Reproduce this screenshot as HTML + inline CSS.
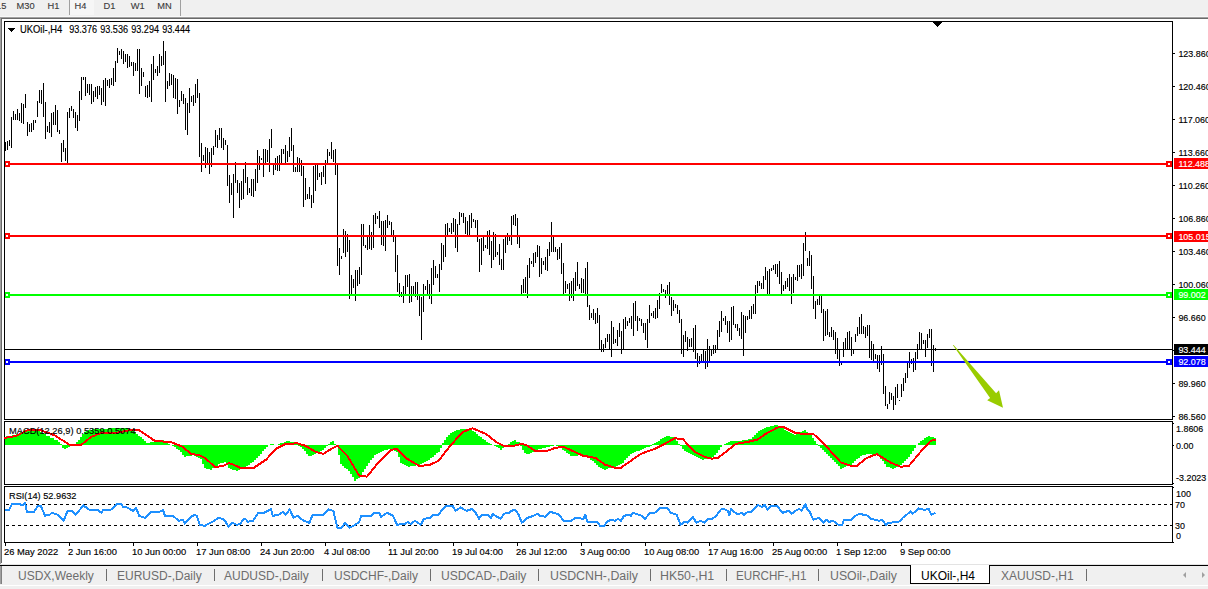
<!DOCTYPE html><html><head><meta charset="utf-8"><style>
html,body{margin:0;padding:0;width:1208px;height:589px;overflow:hidden;background:#fff;}
svg{display:block;}
text{font-family:"Liberation Sans", sans-serif;}
</style></head><body>
<svg width="1208" height="589" viewBox="0 0 1208 589">
<rect x="0" y="0" width="1208" height="589" fill="#ffffff"/>
<rect x="0" y="0" width="1208" height="17" fill="#f0f0f0"/>
<rect x="69" y="0" width="25" height="15" fill="#f6f6f6"/>
<rect x="69" y="0" width="1" height="15" fill="#a0a0a0"/>
<rect x="180" y="0" width="1" height="16" fill="#a0a0a0"/>
<rect x="0" y="16" width="1208" height="1" fill="#f8f8f8"/>
<rect x="0" y="17" width="1208" height="1" fill="#a0a0a0"/>
<rect x="1" y="18" width="1207" height="1" fill="#696969"/>
<g shape-rendering="crispEdges">
<path d="M5.5 142V151M7.5 141V150M9.5 140V146M11.5 117V148M13.5 111V120M15.5 114V120M17.5 109V120M19.5 113V121M21.5 103V123M23.5 104V124M25.5 94V108M27.5 122V136M29.5 124V132M31.5 123V132M33.5 120V130M35.5 120V123M37.5 101V117M39.5 90V103M41.5 90V104M43.5 83V117M45.5 102V139M47.5 126V132M49.5 122V133M51.5 113V137M53.5 112V125M55.5 105V125M57.5 110V132M59.5 130V134M61.5 143V162M63.5 140V152M65.5 148V161M67.5 112V163M69.5 108V118M71.5 106V111M73.5 109V118M75.5 112V128M77.5 115V131M79.5 91V121M81.5 77V100M83.5 77V80M85.5 77V96M87.5 84V93M89.5 84V95M91.5 84V104M93.5 91V102M95.5 87V97M97.5 86V99M99.5 86V95M101.5 88V105M103.5 80V102M105.5 78V106M107.5 80V86M109.5 79V88M111.5 78V85M113.5 68V86M115.5 61V82M117.5 48V63M119.5 51V55M121.5 49V59M123.5 51V64M125.5 54V62M127.5 54V68M129.5 56V67M131.5 62V66M133.5 62V76M135.5 63V71M137.5 49V71M139.5 49V94M141.5 68V86M143.5 72V77M145.5 86V97M147.5 85V98M149.5 81V97M151.5 64V102M153.5 56V80M155.5 69V73M157.5 66V76M159.5 54V73M161.5 56V66M163.5 41V65M165.5 51V102M167.5 81V89M169.5 73V86M171.5 74V85M173.5 75V98M175.5 78V99M177.5 79V114M179.5 100V107M181.5 91V101M183.5 94V104M185.5 98V130M187.5 103V135M189.5 88V113M191.5 96V102M193.5 95V106M195.5 84V103M197.5 79V98M199.5 93V157M201.5 143V172M203.5 155V161M205.5 147V168M207.5 148V164M209.5 152V174M211.5 148V167M213.5 146V155M215.5 130V147M217.5 135V148M219.5 128V140M221.5 128V148M223.5 138V150M225.5 140V145M227.5 145V186M229.5 175V203M231.5 183V195M233.5 174V218M235.5 162V183M237.5 180V193M239.5 183V208M241.5 181V200M243.5 169V199M245.5 162V183M247.5 177V195M249.5 188V193M251.5 179V196M253.5 179V197M255.5 169V191M257.5 150V183M259.5 156V170M261.5 158V160M263.5 149V177M265.5 149V163M267.5 150V162M269.5 139V172M271.5 129V148M273.5 164V175M275.5 158V170M277.5 156V171M279.5 155V171M281.5 149V163M283.5 149V154M285.5 145V163M287.5 151V162M289.5 137V157M291.5 128V151M293.5 145V172M295.5 167V172M297.5 157V172M299.5 158V172M301.5 160V176M303.5 166V207M305.5 178V200M307.5 194V199M309.5 187V199M311.5 195V208M313.5 166V203M315.5 165V191M317.5 165V180M319.5 173V177M321.5 172V185M323.5 166V177M325.5 160V184M327.5 149V163M329.5 152V156M331.5 142V159M333.5 150V162M335.5 149V175M337.5 164V266M339.5 248V275M341.5 256V259M343.5 229V253M345.5 231V257M347.5 234V252M349.5 240V299M351.5 275V295M353.5 279V288M355.5 270V301M357.5 270V286M359.5 267V284M361.5 224V275M363.5 224V246M365.5 245V248M367.5 235V250M369.5 225V249M371.5 232V250M373.5 215V248M375.5 213V224M377.5 216V219M379.5 211V228M381.5 221V245M383.5 221V246M385.5 220V251M387.5 215V228M389.5 221V225M391.5 222V236M393.5 230V242M395.5 236V272M397.5 255V292M399.5 283V297M401.5 292V297M403.5 286V303M405.5 275V294M407.5 275V287M409.5 274V303M411.5 286V302M413.5 286V294M415.5 282V297M417.5 282V300M419.5 296V316M421.5 297V340M423.5 284V312M425.5 286V290M427.5 280V295M429.5 284V299M431.5 268V304M433.5 260V285M435.5 266V278M437.5 274V278M439.5 264V292M441.5 243V270M443.5 245V262M445.5 224V257M447.5 223V235M449.5 228V232M451.5 223V234M453.5 218V232M455.5 219V248M457.5 224V252M459.5 212V225M461.5 213V217M463.5 213V223M465.5 217V234M467.5 221V235M469.5 215V235M471.5 213V228M473.5 219V222M475.5 220V228M477.5 220V242M479.5 239V272M481.5 238V265M483.5 237V251M485.5 245V248M487.5 231V249M489.5 230V255M491.5 241V268M493.5 232V260M495.5 234V257M497.5 252V255M499.5 244V265M501.5 259V270M503.5 239V270M505.5 235V253M507.5 233V245M509.5 237V241M511.5 216V245M513.5 215V225M515.5 214V226M517.5 218V244M519.5 237V248M521.5 285V294M523.5 279V293M525.5 277V293M527.5 265V298M529.5 258V278M531.5 261V264M533.5 253V267M535.5 252V263M537.5 245V257M539.5 246V277M541.5 258V274M543.5 261V265M545.5 257V270M547.5 249V271M549.5 242V256M551.5 222V252M553.5 236V252M555.5 247V252M557.5 249V260M559.5 247V259M561.5 243V274M563.5 263V294M565.5 281V293M567.5 284V289M569.5 283V301M571.5 281V298M573.5 278V301M575.5 272V291M577.5 262V286M579.5 284V289M581.5 278V293M583.5 279V293M585.5 268V294M587.5 262V307M589.5 305V320M591.5 313V318M593.5 309V320M595.5 313V324M597.5 308V323M599.5 315V349M601.5 340V352M603.5 344V352M605.5 338V348M607.5 334V342M609.5 334V349M611.5 321V357M613.5 327V344M615.5 339V343M617.5 330V346M619.5 323V337M621.5 331V354M623.5 319V349M625.5 317V329M627.5 321V326M629.5 318V323M631.5 316V329M633.5 303V336M635.5 301V321M637.5 316V331M639.5 318V321M641.5 319V326M643.5 323V333M645.5 323V340M647.5 319V348M649.5 305V323M651.5 313V316M653.5 311V318M655.5 308V319M657.5 300V318M659.5 293V309M661.5 284V293M663.5 289V292M665.5 290V298M667.5 285V294M669.5 282V305M671.5 297V316M673.5 300V311M675.5 304V308M677.5 305V314M679.5 310V323M681.5 319V354M683.5 335V357M685.5 331V342M687.5 337V351M689.5 339V347M691.5 338V347M693.5 328V352M695.5 325V359M697.5 353V367M699.5 356V364M701.5 354V363M703.5 350V362M705.5 351V369M707.5 339V367M709.5 346V361M711.5 349V356M713.5 345V354M715.5 345V353M717.5 330V349M719.5 321V337M721.5 311V332M723.5 318V321M725.5 316V325M727.5 321V333M729.5 321V342M731.5 307V340M733.5 306V325M735.5 324V328M737.5 324V331M739.5 328V336M741.5 312V339M743.5 315V356M745.5 316V333M747.5 316V320M749.5 310V319M751.5 306V319M753.5 304V314M755.5 285V314M757.5 281V293M759.5 281V286M761.5 283V289M763.5 276V289M765.5 267V280M767.5 271V294M769.5 269V294M771.5 268V271M773.5 265V270M775.5 264V274M777.5 264V277M779.5 261V284M781.5 272V294M783.5 285V291M785.5 281V289M787.5 278V287M789.5 274V291M791.5 277V304M793.5 274V293M795.5 277V280M797.5 265V281M799.5 265V277M801.5 264V279M803.5 243V276M805.5 232V251M807.5 258V266M809.5 251V266M811.5 255V289M813.5 276V309M815.5 301V319M817.5 299V305M819.5 296V305M821.5 296V313M823.5 309V341M825.5 311V336M827.5 309V335M829.5 332V337M831.5 327V337M833.5 330V340M835.5 332V354M837.5 338V359M839.5 350V366M841.5 363V365M843.5 342V357M845.5 338V349M847.5 332V349M849.5 331V349M851.5 337V356M853.5 350V354M855.5 334V342M857.5 327V336M859.5 317V334M861.5 314V334M863.5 326V334M865.5 327V338M867.5 325V336M869.5 325V358M871.5 341V360M873.5 344V361M875.5 354V359M877.5 355V369M879.5 355V372M881.5 346V365M883.5 354V394M885.5 386V406M887.5 404V409M889.5 392V404M891.5 393V400M893.5 396V410M895.5 387V405M897.5 384V398M899.5 400V401M901.5 384V397M903.5 378V391M905.5 373V383M907.5 363V378M909.5 352V368M911.5 359V364M913.5 358V372M915.5 352V370M917.5 344V359M919.5 332V349M921.5 333V349M923.5 340V344M925.5 340V357M927.5 334V348M929.5 329V338M931.5 329V366M933.5 345V372M935.5 348V351" stroke="#000" stroke-width="1" fill="none"/>
</g>
<rect x="5" y="163" width="1167" height="2" fill="#ff0000" shape-rendering="crispEdges"/>
<rect x="4" y="161" width="6" height="6" fill="#ff0000" shape-rendering="crispEdges"/>
<rect x="6" y="163" width="2" height="2" fill="#fff" shape-rendering="crispEdges"/>
<rect x="1166" y="161" width="6" height="6" fill="#ff0000" shape-rendering="crispEdges"/>
<rect x="1168" y="163" width="2" height="2" fill="#fff" shape-rendering="crispEdges"/>
<rect x="5" y="235" width="1167" height="2" fill="#ff0000" shape-rendering="crispEdges"/>
<rect x="4" y="233" width="6" height="6" fill="#ff0000" shape-rendering="crispEdges"/>
<rect x="6" y="235" width="2" height="2" fill="#fff" shape-rendering="crispEdges"/>
<rect x="1166" y="233" width="6" height="6" fill="#ff0000" shape-rendering="crispEdges"/>
<rect x="1168" y="235" width="2" height="2" fill="#fff" shape-rendering="crispEdges"/>
<rect x="5" y="294" width="1167" height="2" fill="#00ff00" shape-rendering="crispEdges"/>
<rect x="4" y="292" width="6" height="6" fill="#00ff00" shape-rendering="crispEdges"/>
<rect x="6" y="294" width="2" height="2" fill="#fff" shape-rendering="crispEdges"/>
<rect x="1166" y="292" width="6" height="6" fill="#00ff00" shape-rendering="crispEdges"/>
<rect x="1168" y="294" width="2" height="2" fill="#fff" shape-rendering="crispEdges"/>
<rect x="5" y="361" width="1167" height="2" fill="#0000ff" shape-rendering="crispEdges"/>
<rect x="4" y="359" width="6" height="6" fill="#0000ff" shape-rendering="crispEdges"/>
<rect x="6" y="361" width="2" height="2" fill="#fff" shape-rendering="crispEdges"/>
<rect x="1166" y="359" width="6" height="6" fill="#0000ff" shape-rendering="crispEdges"/>
<rect x="1168" y="361" width="2" height="2" fill="#fff" shape-rendering="crispEdges"/>
<rect x="5" y="349" width="1167" height="1" fill="#000" shape-rendering="crispEdges"/>
<rect x="1173" y="350" width="1" height="1" fill="#000" shape-rendering="crispEdges"/>
<rect x="4.5" y="21.5" width="1168" height="398" fill="none" stroke="#000" stroke-width="1" shape-rendering="crispEdges"/>
<rect x="4.5" y="421.5" width="1168" height="63" fill="none" stroke="#000" stroke-width="1" shape-rendering="crispEdges"/>
<rect x="4.5" y="486.5" width="1168" height="56" fill="none" stroke="#000" stroke-width="1" shape-rendering="crispEdges"/>
<rect x="932" y="21" width="11" height="1" fill="#000" shape-rendering="crispEdges"/>
<rect x="933" y="22" width="9" height="1" fill="#000" shape-rendering="crispEdges"/>
<rect x="934" y="23" width="7" height="1" fill="#000" shape-rendering="crispEdges"/>
<rect x="935" y="24" width="5" height="1" fill="#000" shape-rendering="crispEdges"/>
<rect x="936" y="25" width="3" height="1" fill="#000" shape-rendering="crispEdges"/>
<rect x="937" y="26" width="1" height="1" fill="#000" shape-rendering="crispEdges"/>
<polygon points="952.8,345 953.6,345 996.1,393.3 999,390.3 1003,407.8 987.2,400.2 990.1,398.1" fill="#99cc00"/>
<rect x="1173" y="53" width="2" height="1" fill="#000" shape-rendering="crispEdges"/>
<text transform="translate(1178.4,57) scale(0.93,1)" font-size="9.6" fill="#000" stroke="#000" stroke-width="0.15" >123.860</text>
<rect x="1173" y="86" width="2" height="1" fill="#000" shape-rendering="crispEdges"/>
<text transform="translate(1178.4,90) scale(0.93,1)" font-size="9.6" fill="#000" stroke="#000" stroke-width="0.15" >120.460</text>
<rect x="1173" y="119" width="2" height="1" fill="#000" shape-rendering="crispEdges"/>
<text transform="translate(1178.4,123) scale(0.93,1)" font-size="9.6" fill="#000" stroke="#000" stroke-width="0.15" >117.060</text>
<rect x="1173" y="152" width="2" height="1" fill="#000" shape-rendering="crispEdges"/>
<text transform="translate(1178.4,156) scale(0.93,1)" font-size="9.6" fill="#000" stroke="#000" stroke-width="0.15" >113.660</text>
<rect x="1173" y="185" width="2" height="1" fill="#000" shape-rendering="crispEdges"/>
<text transform="translate(1178.4,189) scale(0.93,1)" font-size="9.6" fill="#000" stroke="#000" stroke-width="0.15" >110.260</text>
<rect x="1173" y="218" width="2" height="1" fill="#000" shape-rendering="crispEdges"/>
<text transform="translate(1178.4,222) scale(0.93,1)" font-size="9.6" fill="#000" stroke="#000" stroke-width="0.15" >106.860</text>
<rect x="1173" y="251" width="2" height="1" fill="#000" shape-rendering="crispEdges"/>
<text transform="translate(1178.4,255) scale(0.93,1)" font-size="9.6" fill="#000" stroke="#000" stroke-width="0.15" >103.460</text>
<rect x="1173" y="284" width="2" height="1" fill="#000" shape-rendering="crispEdges"/>
<text transform="translate(1178.4,288) scale(0.93,1)" font-size="9.6" fill="#000" stroke="#000" stroke-width="0.15" >100.060</text>
<rect x="1173" y="317" width="2" height="1" fill="#000" shape-rendering="crispEdges"/>
<text transform="translate(1178.4,321) scale(0.93,1)" font-size="9.6" fill="#000" stroke="#000" stroke-width="0.15" >96.660</text>
<rect x="1173" y="383" width="2" height="1" fill="#000" shape-rendering="crispEdges"/>
<text transform="translate(1178.4,387) scale(0.93,1)" font-size="9.6" fill="#000" stroke="#000" stroke-width="0.15" >89.960</text>
<rect x="1173" y="416" width="2" height="1" fill="#000" shape-rendering="crispEdges"/>
<text transform="translate(1178.4,420) scale(0.93,1)" font-size="9.6" fill="#000" stroke="#000" stroke-width="0.15" >86.560</text>
<rect x="1174" y="158" width="34" height="11" fill="#ff0000" shape-rendering="crispEdges"/>
<text transform="translate(1178.4,167) scale(0.93,1)" font-size="9.6" fill="#fff" stroke="#fff" stroke-width="0.15" >112.488</text>
<rect x="1174" y="231" width="34" height="11" fill="#ff0000" shape-rendering="crispEdges"/>
<text transform="translate(1178.4,240) scale(0.93,1)" font-size="9.6" fill="#fff" stroke="#fff" stroke-width="0.15" >105.015</text>
<rect x="1174" y="289" width="34" height="11" fill="#00ff00" shape-rendering="crispEdges"/>
<text transform="translate(1178.4,298) scale(0.93,1)" font-size="9.6" fill="#fff" stroke="#fff" stroke-width="0.15" >99.002</text>
<rect x="1174" y="344" width="34" height="11" fill="#000000" shape-rendering="crispEdges"/>
<text transform="translate(1178.4,353) scale(0.93,1)" font-size="9.6" fill="#fff" stroke="#fff" stroke-width="0.15" >93.444</text>
<rect x="1174" y="356" width="34" height="11" fill="#0000ff" shape-rendering="crispEdges"/>
<text transform="translate(1178.4,365) scale(0.93,1)" font-size="9.6" fill="#fff" stroke="#fff" stroke-width="0.15" >92.078</text>
<rect x="8" y="28" width="7" height="1" fill="#000" shape-rendering="crispEdges"/>
<rect x="9" y="29" width="5" height="1" fill="#000" shape-rendering="crispEdges"/>
<rect x="10" y="30" width="3" height="1" fill="#000" shape-rendering="crispEdges"/>
<rect x="11" y="31" width="1" height="1" fill="#000" shape-rendering="crispEdges"/>
<text transform="translate(20,33) scale(0.94,1)" font-size="10" fill="#000" stroke="#000" stroke-width="0.15" >UKOil-,H4</text>
<text transform="translate(69.2,33) scale(0.91,1)" font-size="10" fill="#000" stroke="#000" stroke-width="0.15" >93.376</text>
<text transform="translate(100.2,33) scale(0.91,1)" font-size="10" fill="#000" stroke="#000" stroke-width="0.15" >93.536</text>
<text transform="translate(131.2,33) scale(0.91,1)" font-size="10" fill="#000" stroke="#000" stroke-width="0.15" >93.294</text>
<text transform="translate(162.2,33) scale(0.91,1)" font-size="10" fill="#000" stroke="#000" stroke-width="0.15" >93.444</text>
<path d="M5 437h1V445h-1zM6 436h2V445h-2zM8 436h2V445h-2zM10 436h2V445h-2zM12 435h2V445h-2zM14 435h2V445h-2zM16 434h2V445h-2zM18 434h2V445h-2zM20 432h2V445h-2zM22 432h2V445h-2zM24 430h2V445h-2zM26 430h2V445h-2zM28 430h2V445h-2zM30 430h2V445h-2zM32 429h2V445h-2zM34 429h2V445h-2zM36 430h2V445h-2zM38 431h2V445h-2zM40 432h2V445h-2zM42 433h2V445h-2zM44 434h2V445h-2zM46 436h2V445h-2zM48 436h2V445h-2zM50 438h2V445h-2zM52 438h2V445h-2zM54 440h2V445h-2zM56 440h2V445h-2zM58 442h2V445h-2zM60 444h2V445h-2zM62 445h2V448h-2zM64 445h2V449h-2zM66 445h2V448h-2zM68 445h2V447h-2zM70 445h2V446h-2zM74 444h2V445h-2zM76 442h2V445h-2zM78 440h2V445h-2zM80 437h2V445h-2zM82 434h2V445h-2zM84 432h2V445h-2zM86 431h2V445h-2zM88 430h2V445h-2zM90 430h2V445h-2zM92 429h2V445h-2zM94 429h2V445h-2zM96 429h2V445h-2zM98 429h2V445h-2zM100 429h2V445h-2zM102 429h2V445h-2zM104 429h2V445h-2zM106 429h2V445h-2zM108 428h2V445h-2zM110 428h2V445h-2zM112 428h2V445h-2zM114 428h2V445h-2zM116 428h2V445h-2zM118 428h2V445h-2zM120 428h2V445h-2zM122 428h2V445h-2zM124 428h2V445h-2zM126 428h2V445h-2zM128 429h2V445h-2zM130 430h2V445h-2zM132 431h2V445h-2zM134 432h2V445h-2zM136 434h2V445h-2zM138 436h2V445h-2zM140 437h2V445h-2zM142 439h2V445h-2zM144 441h2V445h-2zM146 443h2V445h-2zM148 443h2V445h-2zM150 442h2V445h-2zM152 442h2V445h-2zM154 442h2V445h-2zM156 442h2V445h-2zM158 441h2V445h-2zM160 440h2V445h-2zM162 440h2V445h-2zM164 441h2V445h-2zM166 443h2V445h-2zM168 444h2V445h-2zM172 445h2V446h-2zM174 445h2V447h-2zM176 445h2V449h-2zM178 445h2V450h-2zM180 445h2V452h-2zM182 445h2V455h-2zM184 445h2V457h-2zM186 445h2V456h-2zM188 445h2V456h-2zM190 445h2V456h-2zM192 445h2V455h-2zM194 445h2V456h-2zM196 445h2V457h-2zM198 445h2V458h-2zM200 445h2V459h-2zM202 445h2V464h-2zM204 445h2V468h-2zM206 445h2V469h-2zM208 445h2V469h-2zM210 445h2V470h-2zM212 445h2V468h-2zM214 445h2V467h-2zM216 445h2V466h-2zM218 445h2V464h-2zM220 445h2V463h-2zM222 445h2V463h-2zM224 445h2V462h-2zM226 445h2V465h-2zM228 445h2V468h-2zM230 445h2V469h-2zM232 445h2V470h-2zM234 445h2V470h-2zM236 445h2V471h-2zM238 445h2V470h-2zM240 445h2V469h-2zM242 445h2V468h-2zM244 445h2V467h-2zM246 445h2V466h-2zM248 445h2V465h-2zM250 445h2V463h-2zM252 445h2V462h-2zM254 445h2V460h-2zM256 445h2V458h-2zM258 445h2V456h-2zM260 445h2V454h-2zM262 445h2V451h-2zM264 445h2V449h-2zM266 445h2V447h-2zM270 444h2V445h-2zM272 444h2V445h-2zM278 444h2V445h-2zM280 443h2V445h-2zM282 443h2V445h-2zM284 442h2V445h-2zM286 441h2V445h-2zM288 441h2V445h-2zM290 442h2V445h-2zM292 442h2V445h-2zM294 443h2V445h-2zM296 444h2V445h-2zM298 445h2V446h-2zM300 445h2V447h-2zM302 445h2V449h-2zM304 445h2V451h-2zM306 445h2V454h-2zM308 445h2V456h-2zM310 445h2V456h-2zM312 445h2V455h-2zM314 445h2V454h-2zM316 445h2V453h-2zM318 445h2V452h-2zM320 445h2V451h-2zM322 445h2V450h-2zM324 445h2V448h-2zM326 445h2V446h-2zM328 444h2V445h-2zM330 442h2V445h-2zM332 441h2V445h-2zM334 444h2V445h-2zM336 445h2V446h-2zM338 445h2V455h-2zM340 445h2V464h-2zM342 445h2V466h-2zM344 445h2V468h-2zM346 445h2V469h-2zM348 445h2V471h-2zM350 445h2V474h-2zM352 445h2V477h-2zM354 445h2V481h-2zM356 445h2V479h-2zM358 445h2V478h-2zM360 445h2V475h-2zM362 445h2V472h-2zM364 445h2V469h-2zM366 445h2V466h-2zM368 445h2V463h-2zM370 445h2V460h-2zM372 445h2V458h-2zM374 445h2V455h-2zM376 445h2V454h-2zM378 445h2V453h-2zM380 445h2V452h-2zM382 445h2V451h-2zM384 445h2V450h-2zM386 445h2V450h-2zM388 445h2V449h-2zM390 445h2V450h-2zM392 445h2V450h-2zM394 445h2V451h-2zM396 445h2V452h-2zM398 445h2V457h-2zM400 445h2V463h-2zM402 445h2V464h-2zM404 445h2V465h-2zM406 445h2V466h-2zM408 445h2V467h-2zM410 445h2V466h-2zM412 445h2V466h-2zM414 445h2V466h-2zM416 445h2V465h-2zM418 445h2V465h-2zM420 445h2V464h-2zM422 445h2V463h-2zM424 445h2V462h-2zM426 445h2V461h-2zM428 445h2V460h-2zM430 445h2V458h-2zM432 445h2V457h-2zM434 445h2V455h-2zM436 445h2V453h-2zM438 445h2V452h-2zM440 445h2V448h-2zM442 443h2V445h-2zM444 440h2V445h-2zM446 437h2V445h-2zM448 435h2V445h-2zM450 433h2V445h-2zM452 432h2V445h-2zM454 431h2V445h-2zM456 430h2V445h-2zM458 430h2V445h-2zM460 429h2V445h-2zM462 429h2V445h-2zM464 429h2V445h-2zM466 429h2V445h-2zM468 429h2V445h-2zM470 429h2V445h-2zM472 431h2V445h-2zM474 432h2V445h-2zM476 434h2V445h-2zM478 436h2V445h-2zM480 437h2V445h-2zM482 439h2V445h-2zM484 440h2V445h-2zM486 442h2V445h-2zM488 443h2V445h-2zM490 444h2V445h-2zM494 445h2V446h-2zM496 445h2V447h-2zM498 445h2V448h-2zM500 445h2V450h-2zM502 445h2V448h-2zM504 445h2V447h-2zM508 444h2V445h-2zM510 442h2V445h-2zM512 441h2V445h-2zM514 440h2V445h-2zM516 442h2V445h-2zM518 442h2V445h-2zM520 445h2V446h-2zM522 445h2V450h-2zM524 445h2V453h-2zM526 445h2V454h-2zM528 445h2V454h-2zM530 445h2V453h-2zM532 445h2V452h-2zM534 445h2V451h-2zM536 445h2V450h-2zM538 445h2V449h-2zM540 445h2V449h-2zM542 445h2V448h-2zM544 445h2V448h-2zM546 445h2V447h-2zM548 445h2V447h-2zM550 445h2V446h-2zM552 445h2V446h-2zM556 445h2V446h-2zM558 445h2V447h-2zM560 445h2V448h-2zM562 445h2V450h-2zM564 445h2V451h-2zM566 445h2V453h-2zM568 445h2V454h-2zM570 445h2V456h-2zM572 445h2V456h-2zM574 445h2V456h-2zM576 445h2V456h-2zM578 445h2V455h-2zM580 445h2V455h-2zM582 445h2V455h-2zM584 445h2V456h-2zM586 445h2V457h-2zM588 445h2V458h-2zM590 445h2V460h-2zM592 445h2V461h-2zM594 445h2V463h-2zM596 445h2V465h-2zM598 445h2V467h-2zM600 445h2V468h-2zM602 445h2V469h-2zM604 445h2V470h-2zM606 445h2V469h-2zM608 445h2V468h-2zM610 445h2V468h-2zM612 445h2V467h-2zM614 445h2V467h-2zM616 445h2V466h-2zM618 445h2V465h-2zM620 445h2V464h-2zM622 445h2V463h-2zM624 445h2V460h-2zM626 445h2V458h-2zM628 445h2V456h-2zM630 445h2V454h-2zM632 445h2V453h-2zM634 445h2V452h-2zM636 445h2V451h-2zM638 445h2V451h-2zM640 445h2V450h-2zM642 445h2V449h-2zM644 445h2V448h-2zM646 445h2V447h-2zM648 445h2V447h-2zM650 445h2V446h-2zM652 444h2V445h-2zM654 443h2V445h-2zM656 442h2V445h-2zM658 441h2V445h-2zM660 439h2V445h-2zM662 438h2V445h-2zM664 437h2V445h-2zM666 436h2V445h-2zM668 436h2V445h-2zM670 437h2V445h-2zM672 437h2V445h-2zM674 438h2V445h-2zM676 441h2V445h-2zM678 444h2V445h-2zM680 445h2V446h-2zM682 445h2V449h-2zM684 445h2V451h-2zM686 445h2V452h-2zM688 445h2V453h-2zM690 445h2V454h-2zM692 445h2V455h-2zM694 445h2V456h-2zM696 445h2V457h-2zM698 445h2V458h-2zM700 445h2V459h-2zM702 445h2V460h-2zM704 445h2V459h-2zM706 445h2V459h-2zM708 445h2V458h-2zM710 445h2V458h-2zM712 445h2V457h-2zM714 445h2V455h-2zM716 445h2V453h-2zM718 445h2V450h-2zM720 445h2V447h-2zM724 444h2V445h-2zM726 443h2V445h-2zM728 442h2V445h-2zM730 441h2V445h-2zM732 441h2V445h-2zM734 441h2V445h-2zM736 441h2V445h-2zM738 441h2V445h-2zM740 441h2V445h-2zM742 440h2V445h-2zM744 440h2V445h-2zM746 440h2V445h-2zM748 439h2V445h-2zM750 439h2V445h-2zM752 437h2V445h-2zM754 435h2V445h-2zM756 433h2V445h-2zM758 431h2V445h-2zM760 430h2V445h-2zM762 429h2V445h-2zM764 428h2V445h-2zM766 427h2V445h-2zM768 427h2V445h-2zM770 426h2V445h-2zM772 426h2V445h-2zM774 425h2V445h-2zM776 425h2V445h-2zM778 426h2V445h-2zM780 427h2V445h-2zM782 428h2V445h-2zM784 430h2V445h-2zM786 431h2V445h-2zM788 432h2V445h-2zM790 433h2V445h-2zM792 434h2V445h-2zM794 435h2V445h-2zM796 434h2V445h-2zM798 433h2V445h-2zM800 432h2V445h-2zM802 431h2V445h-2zM804 430h2V445h-2zM806 432h2V445h-2zM808 433h2V445h-2zM810 435h2V445h-2zM812 438h2V445h-2zM814 441h2V445h-2zM816 444h2V445h-2zM818 445h2V446h-2zM820 445h2V448h-2zM822 445h2V450h-2zM824 445h2V452h-2zM826 445h2V454h-2zM828 445h2V456h-2zM830 445h2V458h-2zM832 445h2V460h-2zM834 445h2V462h-2zM836 445h2V464h-2zM838 445h2V466h-2zM840 445h2V469h-2zM842 445h2V468h-2zM844 445h2V467h-2zM846 445h2V466h-2zM848 445h2V466h-2zM850 445h2V465h-2zM852 445h2V463h-2zM854 445h2V461h-2zM856 445h2V459h-2zM858 445h2V458h-2zM860 445h2V456h-2zM862 445h2V455h-2zM864 445h2V455h-2zM866 445h2V454h-2zM868 445h2V454h-2zM870 445h2V454h-2zM872 445h2V455h-2zM874 445h2V455h-2zM876 445h2V455h-2zM878 445h2V456h-2zM880 445h2V459h-2zM882 445h2V461h-2zM884 445h2V464h-2zM886 445h2V467h-2zM888 445h2V467h-2zM890 445h2V468h-2zM892 445h2V469h-2zM894 445h2V468h-2zM896 445h2V467h-2zM898 445h2V466h-2zM900 445h2V465h-2zM902 445h2V463h-2zM904 445h2V461h-2zM906 445h2V459h-2zM908 445h2V457h-2zM910 445h2V454h-2zM912 445h2V451h-2zM914 445h2V448h-2zM918 443h2V445h-2zM920 441h2V445h-2zM922 440h2V445h-2zM924 438h2V445h-2zM926 437h2V445h-2zM928 436h2V445h-2zM930 437h2V445h-2zM932 437h2V445h-2zM934 438h2V445h-2z" fill="#00ff00" shape-rendering="crispEdges"/>
<polyline points="4.0,438.0 16.0,436.0 28.0,430.0 40.0,430.0 54.0,435.0 62.0,440.0 70.0,445.0 81.0,445.0 91.0,437.0 101.0,433.0 115.0,433.0 131.0,430.0 139.0,430.0 155.0,441.0 171.0,442.0 183.0,447.0 191.0,454.0 199.0,455.0 205.0,458.0 215.0,467.0 223.0,466.0 229.0,463.0 234.0,465.0 240.0,467.7 254.0,467.7 266.0,459.7 276.0,448.8 285.7,443.8 297.6,443.4 305.6,445.8 315.5,451.8 323.4,453.8 331.4,448.8 337.4,445.8 347.3,455.8 359.2,475.6 367.0,476.6 379.0,461.7 391.0,449.8 397.0,448.8 407.0,458.7 418.8,465.7 428.8,465.3 438.7,460.7 448.6,447.8 462.5,432.0 472.5,428.3 486.0,434.0 496.0,441.9 503.8,445.8 513.8,445.8 521.7,443.8 527.7,445.8 535.6,451.4 545.5,451.4 555.5,447.8 563.4,446.8 583.3,455.8 595.2,457.8 605.0,464.7 615.0,467.7 621.0,467.7 631.0,460.7 641.0,453.8 654.8,448.8 664.8,443.8 674.7,438.3 682.6,438.9 694.6,451.8 704.5,456.8 712.0,458.7 718.0,457.8 726.0,451.8 735.8,443.8 747.8,441.9 757.7,439.5 765.6,433.9 777.6,427.5 783.5,427.0 795.4,432.9 803.4,433.9 813.3,433.9 823.3,442.9 831.2,451.8 841.1,462.7 851.0,465.7 857.0,465.7 867.0,457.8 876.9,454.2 890.8,462.7 900.8,466.7 908.7,466.1 920.6,451.8 930.6,440.9 936.0,439.5" fill="none" stroke="#ff0000" stroke-width="2" stroke-linejoin="round" shape-rendering="crispEdges"/>
<text transform="translate(9,434) scale(0.97,1)" font-size="9.6" fill="#000" stroke="#000" stroke-width="0.15" >MACD(12,26,9) 0.5359 0.5074</text>
<rect x="1173" y="423" width="1" height="1" fill="#000" shape-rendering="crispEdges"/>
<text transform="translate(1176,432) scale(0.93,1)" font-size="9.6" fill="#000" stroke="#000" stroke-width="0.15" >1.8606</text>
<rect x="1173" y="445" width="1" height="1" fill="#000" shape-rendering="crispEdges"/>
<text transform="translate(1176,449) scale(0.93,1)" font-size="9.6" fill="#000" stroke="#000" stroke-width="0.15" >0.00</text>
<rect x="1173" y="483" width="1" height="1" fill="#000" shape-rendering="crispEdges"/>
<text transform="translate(1176,481) scale(0.93,1)" font-size="9.6" fill="#000" stroke="#000" stroke-width="0.15" >-3.2023</text>
<line x1="6" y1="504.5" x2="1172" y2="504.5" stroke="#000" stroke-width="1" stroke-dasharray="3,3" shape-rendering="crispEdges"/>
<line x1="6" y1="525.5" x2="1172" y2="525.5" stroke="#000" stroke-width="1" stroke-dasharray="3,3" shape-rendering="crispEdges"/>
<polyline points="5.0,509.9 9.0,509.9 12.0,504.3 20.0,504.3 23.0,505.5 25.0,502.9 27.0,511.9 34.0,511.9 38.0,505.5 41.0,506.3 45.0,515.8 49.7,514.8 51.7,512.8 57.6,514.8 63.6,520.8 67.6,510.9 72.5,510.9 75.5,514.8 83.5,505.5 89.4,509.9 97.4,509.9 101.4,512.8 103.3,509.5 111.3,509.5 117.3,503.9 121.2,504.3 123.2,506.9 126.2,506.9 133.1,510.9 136.1,507.9 139.1,515.8 145.1,517.8 151.0,511.9 159.0,511.9 163.0,509.9 165.0,515.8 172.9,515.8 178.8,520.8 182.8,519.8 184.8,523.8 190.8,516.8 194.7,514.8 196.7,515.8 199.7,524.8 204.7,525.8 212.6,521.8 218.6,517.8 224.5,519.8 228.5,526.8 232.5,522.8 236.5,524.8 240.4,523.8 243.0,519.4 246.0,519.4 248.0,521.8 252.9,520.8 257.9,513.4 263.8,512.8 267.8,510.9 270.8,508.9 272.8,515.8 278.7,514.8 282.7,511.9 285.7,514.8 289.7,509.5 293.6,517.8 297.6,515.8 303.6,520.8 309.5,522.8 312.5,514.8 315.5,515.4 323.4,514.8 328.4,509.5 333.4,510.9 337.4,527.8 341.3,527.8 345.3,522.8 349.3,527.8 355.2,524.8 359.2,521.8 361.2,515.8 371.1,516.2 374.1,512.8 379.1,512.8 381.1,516.8 387.0,512.8 393.0,515.8 397.0,524.8 404.9,523.8 407.9,521.8 410.9,524.2 414.8,520.8 420.8,524.8 423.8,518.8 430.7,517.8 432.7,514.8 438.7,514.8 441.7,509.9 446.6,505.9 452.6,505.9 455.6,510.9 460.5,507.5 466.5,510.9 472.5,508.9 476.0,513.4 479.0,518.8 481.0,515.4 487.9,514.8 490.9,517.8 492.9,513.8 495.9,516.2 500.8,518.8 503.8,513.8 508.8,512.8 513.8,509.5 516.7,511.5 518.7,514.8 521.7,522.8 527.7,517.8 533.6,515.8 537.6,513.8 539.6,515.8 545.5,516.8 550.5,511.9 555.5,513.4 559.4,514.8 563.4,520.8 571.4,520.8 575.3,517.8 583.3,518.8 585.3,514.8 587.3,521.8 597.2,521.8 600.2,526.2 604.2,525.8 607.1,521.8 611.1,519.8 615.1,520.8 618.1,518.8 621.0,520.8 624.0,515.8 629.0,514.8 631.0,515.8 633.0,512.8 640.9,515.4 644.9,518.8 649.9,513.4 655.8,512.3 659.8,508.3 667.7,508.3 670.7,512.8 676.7,514.8 680.6,524.8 684.6,521.8 687.6,522.8 692.6,516.8 696.5,522.8 700.5,520.8 704.5,522.8 708.5,518.8 712.0,518.8 716.0,516.2 720.9,509.5 723.9,508.9 727.9,510.9 729.5,515.4 730.9,508.9 733.9,511.9 737.8,514.2 741.8,512.8 743.8,514.8 747.8,511.9 751.7,511.5 757.7,504.9 761.7,506.9 764.7,504.9 767.6,509.9 771.6,505.5 776.6,505.5 782.5,512.8 788.5,510.9 791.5,513.8 795.4,510.9 799.4,508.9 801.4,510.9 805.4,504.3 807.4,509.9 809.4,510.9 813.3,519.8 819.3,517.8 823.3,522.8 826.2,519.8 829.2,521.8 833.2,520.8 839.2,525.4 842.1,524.8 844.1,519.8 851.0,519.8 855.1,516.2 859.0,513.8 867.0,515.4 870.9,518.8 878.9,520.8 881.9,519.8 885.9,524.8 888.8,522.8 894.8,522.2 899.8,521.4 902.7,517.8 910.7,511.5 912.7,513.8 918.6,508.3 924.6,509.9 928.6,508.9 931.5,514.8 935.5,512.8" fill="none" stroke="#1e90ff" stroke-width="2" stroke-linejoin="round" shape-rendering="crispEdges"/>
<text transform="translate(9,498.6) scale(0.96,1)" font-size="9.6" fill="#000" stroke="#000" stroke-width="0.15" >RSI(14) 52.9632</text>
<rect x="1173" y="487" width="1" height="1" fill="#000" shape-rendering="crispEdges"/>
<text transform="translate(1176,497) scale(0.93,1)" font-size="9.6" fill="#000" stroke="#000" stroke-width="0.15" >100</text>
<text transform="translate(1175,508) scale(0.93,1)" font-size="9.6" fill="#000" stroke="#000" stroke-width="0.15" >70</text>
<text transform="translate(1175,529) scale(0.93,1)" font-size="9.6" fill="#000" stroke="#000" stroke-width="0.15" >30</text>
<rect x="1173" y="542" width="1" height="1" fill="#000" shape-rendering="crispEdges"/>
<text transform="translate(1176,539) scale(0.93,1)" font-size="9.6" fill="#000" stroke="#000" stroke-width="0.15" >0</text>
<rect x="5" y="543" width="1" height="3" fill="#000" shape-rendering="crispEdges"/>
<text transform="translate(4,555) scale(0.977,1)" font-size="9.6" fill="#000" stroke="#000" stroke-width="0.15" >26 May 2022</text>
<rect x="69" y="543" width="1" height="3" fill="#000" shape-rendering="crispEdges"/>
<text transform="translate(68,555) scale(0.977,1)" font-size="9.6" fill="#000" stroke="#000" stroke-width="0.15" >2 Jun 16:00</text>
<rect x="133" y="543" width="1" height="3" fill="#000" shape-rendering="crispEdges"/>
<text transform="translate(132,555) scale(0.977,1)" font-size="9.6" fill="#000" stroke="#000" stroke-width="0.15" >10 Jun 00:00</text>
<rect x="197" y="543" width="1" height="3" fill="#000" shape-rendering="crispEdges"/>
<text transform="translate(196,555) scale(0.977,1)" font-size="9.6" fill="#000" stroke="#000" stroke-width="0.15" >17 Jun 08:00</text>
<rect x="261" y="543" width="1" height="3" fill="#000" shape-rendering="crispEdges"/>
<text transform="translate(260,555) scale(0.977,1)" font-size="9.6" fill="#000" stroke="#000" stroke-width="0.15" >24 Jun 20:00</text>
<rect x="325" y="543" width="1" height="3" fill="#000" shape-rendering="crispEdges"/>
<text transform="translate(324,555) scale(0.977,1)" font-size="9.6" fill="#000" stroke="#000" stroke-width="0.15" >4 Jul 08:00</text>
<rect x="389" y="543" width="1" height="3" fill="#000" shape-rendering="crispEdges"/>
<text transform="translate(388,555) scale(0.977,1)" font-size="9.6" fill="#000" stroke="#000" stroke-width="0.15" >11 Jul 20:00</text>
<rect x="453" y="543" width="1" height="3" fill="#000" shape-rendering="crispEdges"/>
<text transform="translate(452,555) scale(0.977,1)" font-size="9.6" fill="#000" stroke="#000" stroke-width="0.15" >19 Jul 04:00</text>
<rect x="517" y="543" width="1" height="3" fill="#000" shape-rendering="crispEdges"/>
<text transform="translate(516,555) scale(0.977,1)" font-size="9.6" fill="#000" stroke="#000" stroke-width="0.15" >26 Jul 12:00</text>
<rect x="581" y="543" width="1" height="3" fill="#000" shape-rendering="crispEdges"/>
<text transform="translate(580,555) scale(0.977,1)" font-size="9.6" fill="#000" stroke="#000" stroke-width="0.15" >3 Aug 00:00</text>
<rect x="645" y="543" width="1" height="3" fill="#000" shape-rendering="crispEdges"/>
<text transform="translate(644,555) scale(0.977,1)" font-size="9.6" fill="#000" stroke="#000" stroke-width="0.15" >10 Aug 08:00</text>
<rect x="709" y="543" width="1" height="3" fill="#000" shape-rendering="crispEdges"/>
<text transform="translate(708,555) scale(0.977,1)" font-size="9.6" fill="#000" stroke="#000" stroke-width="0.15" >17 Aug 16:00</text>
<rect x="773" y="543" width="1" height="3" fill="#000" shape-rendering="crispEdges"/>
<text transform="translate(772,555) scale(0.977,1)" font-size="9.6" fill="#000" stroke="#000" stroke-width="0.15" >25 Aug 00:00</text>
<rect x="837" y="543" width="1" height="3" fill="#000" shape-rendering="crispEdges"/>
<text transform="translate(836,555) scale(0.977,1)" font-size="9.6" fill="#000" stroke="#000" stroke-width="0.15" >1 Sep 12:00</text>
<rect x="901" y="543" width="1" height="3" fill="#000" shape-rendering="crispEdges"/>
<text transform="translate(900,555) scale(0.977,1)" font-size="9.6" fill="#000" stroke="#000" stroke-width="0.15" >9 Sep 00:00</text>
<rect x="0" y="564" width="1208" height="1" fill="#e3e3e3"/>
<rect x="0" y="565" width="1208" height="1" fill="#000"/>
<rect x="0" y="566" width="1208" height="19" fill="#f0f0f0"/>
<rect x="0" y="585" width="1208" height="1" fill="#ffffff"/>
<rect x="0" y="586" width="1208" height="3" fill="#f0f0f0"/>
<rect x="910" y="565" width="80" height="19" fill="#000"/>
<rect x="911" y="565" width="78" height="18" fill="#fff"/>
<text transform="translate(18,580) scale(1.0,1)" font-size="12" fill="#6d6d6d">USDX,Weekly</text>
<rect x="106" y="569" width="1" height="12" fill="#6d6d6d"/>
<text transform="translate(117,580) scale(1.0,1)" font-size="12" fill="#6d6d6d">EURUSD-,Daily</text>
<rect x="214" y="569" width="1" height="12" fill="#6d6d6d"/>
<text transform="translate(224,580) scale(1.0,1)" font-size="12" fill="#6d6d6d">AUDUSD-,Daily</text>
<rect x="322" y="569" width="1" height="12" fill="#6d6d6d"/>
<text transform="translate(334,580) scale(1.0,1)" font-size="12" fill="#6d6d6d">USDCHF-,Daily</text>
<rect x="430" y="569" width="1" height="12" fill="#6d6d6d"/>
<text transform="translate(441,580) scale(1.01,1)" font-size="12" fill="#6d6d6d">USDCAD-,Daily</text>
<rect x="538" y="569" width="1" height="12" fill="#6d6d6d"/>
<text transform="translate(550,580) scale(1.03,1)" font-size="12" fill="#6d6d6d">USDCNH-,Daily</text>
<rect x="650" y="569" width="1" height="12" fill="#6d6d6d"/>
<text transform="translate(660,580) scale(1.03,1)" font-size="12" fill="#6d6d6d">HK50-,H1</text>
<rect x="726" y="569" width="1" height="12" fill="#6d6d6d"/>
<text transform="translate(736,580) scale(0.97,1)" font-size="12" fill="#6d6d6d">EURCHF-,H1</text>
<rect x="818" y="569" width="1" height="12" fill="#6d6d6d"/>
<text transform="translate(830,580) scale(1.025,1)" font-size="12" fill="#6d6d6d">USOil-,Daily</text>
<text transform="translate(1001,580) scale(1.0,1)" font-size="12" fill="#6d6d6d">XAUUSD-,H1</text>
<rect x="1086" y="569" width="1" height="12" fill="#6d6d6d"/>
<text x="921" y="580" font-size="12" fill="#000">UKOil-,H4</text>
<rect x="0" y="17" width="1" height="547" fill="#a0a0a0"/>
<rect x="1" y="18" width="1" height="545" fill="#696969"/>
<rect x="0" y="566" width="1" height="18" fill="#a0a0a0"/>
<rect x="1" y="566" width="1" height="18" fill="#808080"/>
<polygon points="1186,572 1186,578 1183,575" fill="#a0a0a0"/>
<polygon points="1202,572 1202,578 1205,575" fill="#a0a0a0"/>
<text transform="translate(-4,9) scale(0.97,1)" font-size="9.6" fill="#3a3a3a" stroke="#3a3a3a" stroke-width="0.12">15</text>
<text transform="translate(16.5,9) scale(0.97,1)" font-size="9.6" fill="#3a3a3a" stroke="#3a3a3a" stroke-width="0.12">M30</text>
<text transform="translate(47.5,9) scale(0.97,1)" font-size="9.6" fill="#3a3a3a" stroke="#3a3a3a" stroke-width="0.12">H1</text>
<text transform="translate(74.5,9) scale(0.97,1)" font-size="9.6" fill="#3a3a3a" stroke="#3a3a3a" stroke-width="0.12">H4</text>
<text transform="translate(103.5,9) scale(0.97,1)" font-size="9.6" fill="#3a3a3a" stroke="#3a3a3a" stroke-width="0.12">D1</text>
<text transform="translate(130.8,9) scale(0.97,1)" font-size="9.6" fill="#3a3a3a" stroke="#3a3a3a" stroke-width="0.12">W1</text>
<text transform="translate(157.3,9) scale(0.97,1)" font-size="9.6" fill="#3a3a3a" stroke="#3a3a3a" stroke-width="0.12">MN</text>
</svg></body></html>
